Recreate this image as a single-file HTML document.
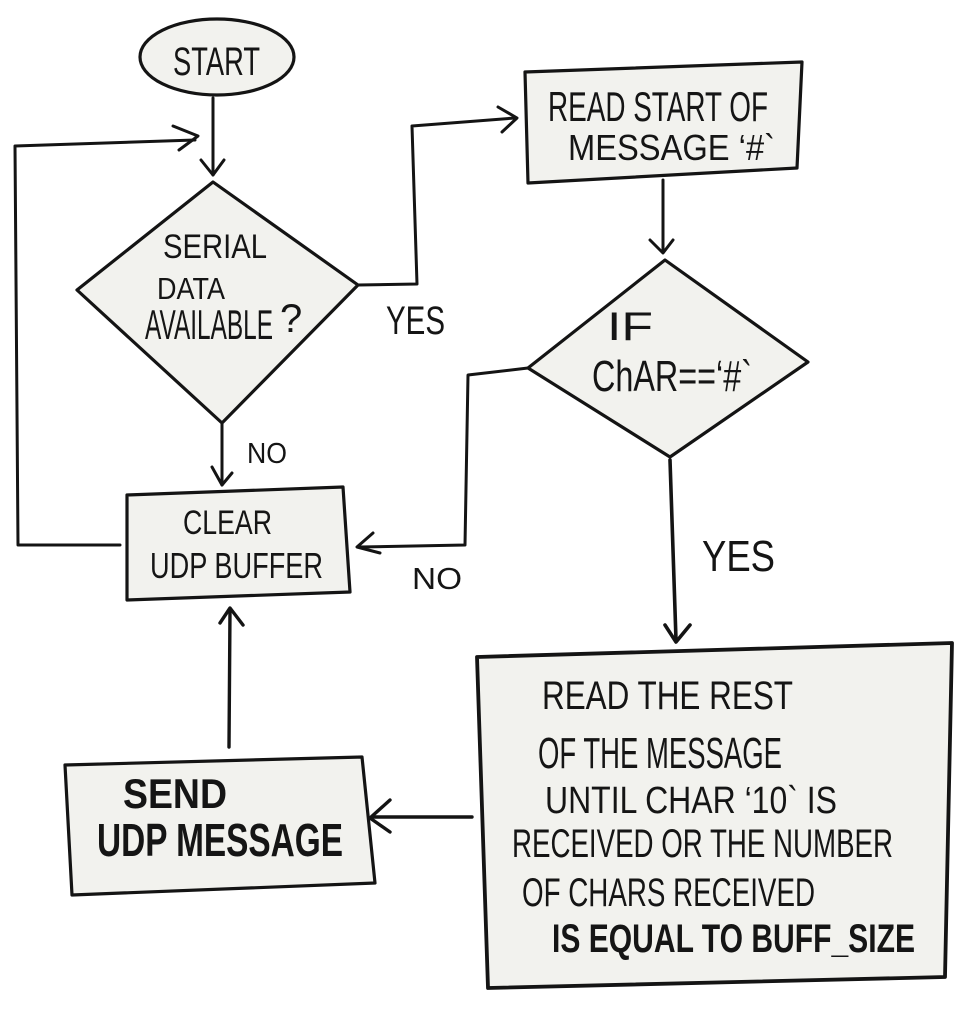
<!DOCTYPE html>
<html>
<head>
<meta charset="utf-8">
<style>
  html,body{margin:0;padding:0;background:#fff;}
  svg{display:block;}
  text{font-family:"Liberation Sans",sans-serif;fill:#151515;}
</style>
</head>
<body>
<svg width="978" height="1024" viewBox="0 0 978 1024" xmlns="http://www.w3.org/2000/svg">
  <rect width="978" height="1024" fill="#ffffff"/>
  <g fill="#f2f2ee" stroke="#141414" stroke-width="3.2" stroke-linejoin="round" stroke-linecap="round">
    <ellipse cx="217" cy="57" rx="77" ry="38"/>
    <polygon points="213,182 358,285 222,423 77,290"/>
    <polygon points="525,72 802,62 797,168 528,183"/>
    <polygon points="665,260 808,362 670,457 528,368"/>
    <polygon points="127,495 343,487 350,592 127,600"/>
    <polygon points="65,765 362,757 375,883 72,895"/>
    <polygon points="477,657 952,643 945,977 488,988" stroke-width="3.8"/>
  </g>
  <g fill="none" stroke="#141414" stroke-width="3" stroke-linejoin="round" stroke-linecap="round">
    <!-- start -> d1 -->
    <path d="M213,98 L213,175"/>
    <path d="M201,160 L213,175 L224,160"/>
    <!-- loop back -->
    <path d="M120,545 L18,545 L15,146 L195,140"/>
    <path d="M173,126 L198,136 L179,150"/>
    <!-- yes to read start -->
    <path d="M358,285 L417,284 L412,126 L515,118"/>
    <path d="M498,107 L517,118 L502,132"/>
    <!-- read start -> d2 -->
    <path d="M663,180 L663,252"/>
    <path d="M650,240 L663,253 L673,240"/>
    <!-- d2 no -> clear -->
    <path d="M528,368 L468,375 L465,545 L360,547"/>
    <path d="M373,533 L357,547 L380,553"/>
    <!-- d1 no -> clear -->
    <path d="M222,423 L222,485"/>
    <path d="M212,467 L222,485 L232,473"/>
    <!-- d2 yes -> big -->
    <path d="M670,460 L676,640" stroke-width="3.6"/>
    <path d="M665,625 L676,642 L690,625" stroke-width="3.6"/>
    <!-- send -> clear -->
    <path d="M229,747 L230,610" stroke-width="3.4"/>
    <path d="M220,623 L230,608 L243,625" stroke-width="3.4"/>
    <!-- big -> send -->
    <path d="M472,817 L372,817" stroke-width="3.4"/>
    <path d="M390,800 L370,818 L390,832" stroke-width="3.4"/>
  </g>

  <!-- labels -->
  <text x="173" y="75" font-size="40" textLength="87" lengthAdjust="spacingAndGlyphs">START</text>

  <text x="163" y="258" font-size="34" textLength="104" lengthAdjust="spacingAndGlyphs">SERIAL</text>
  <text x="157" y="299" font-size="31" textLength="68" lengthAdjust="spacingAndGlyphs">DATA</text>
  <text x="145" y="339" font-size="42" textLength="128" lengthAdjust="spacingAndGlyphs">AVAILABLE</text>
  <text x="280" y="332" font-size="40">?</text>

  <text x="386" y="334" font-size="40" textLength="59" lengthAdjust="spacingAndGlyphs">YES</text>

  <text x="548" y="121" font-size="42" textLength="220" lengthAdjust="spacingAndGlyphs">READ START OF</text>
  <text x="568" y="160" font-size="36" textLength="207" lengthAdjust="spacingAndGlyphs">MESSAGE ‘#`</text>

  <text x="607" y="340" font-size="40" textLength="46" lengthAdjust="spacingAndGlyphs">IF</text>
  <text x="592" y="391" font-size="44" textLength="160" lengthAdjust="spacingAndGlyphs">ChAR==‘#`</text>

  <text x="247" y="463" font-size="29" textLength="40" lengthAdjust="spacingAndGlyphs">NO</text>

  <text x="183" y="534" font-size="34" textLength="89" lengthAdjust="spacingAndGlyphs">CLEAR</text>
  <text x="150" y="578" font-size="36" textLength="173" lengthAdjust="spacingAndGlyphs">UDP BUFFER</text>

  <text x="412" y="589" font-size="31" textLength="50" lengthAdjust="spacingAndGlyphs">NO</text>

  <text x="702" y="571" font-size="44" textLength="73" lengthAdjust="spacingAndGlyphs">YES</text>

  <text x="123" y="808" font-size="42" font-weight="bold" textLength="104" lengthAdjust="spacingAndGlyphs">SEND</text>
  <text x="97" y="856" font-size="46" font-weight="bold" textLength="246" lengthAdjust="spacingAndGlyphs">UDP MESSAGE</text>

  <text x="542" y="709" font-size="40" textLength="251" lengthAdjust="spacingAndGlyphs">READ THE REST</text>
  <text x="538" y="768" font-size="44" textLength="244" lengthAdjust="spacingAndGlyphs">OF THE MESSAGE</text>
  <text x="545" y="813" font-size="38" textLength="292" lengthAdjust="spacingAndGlyphs">UNTIL CHAR ‘10` IS</text>
  <text x="512" y="857" font-size="40" textLength="381" lengthAdjust="spacingAndGlyphs">RECEIVED OR THE NUMBER</text>
  <text x="522" y="906" font-size="40" textLength="293" lengthAdjust="spacingAndGlyphs">OF CHARS RECEIVED</text>
  <text x="552" y="952" font-size="40" font-weight="bold" textLength="363" lengthAdjust="spacingAndGlyphs">IS EQUAL TO BUFF_SIZE</text>
</svg>
</body>
</html>
